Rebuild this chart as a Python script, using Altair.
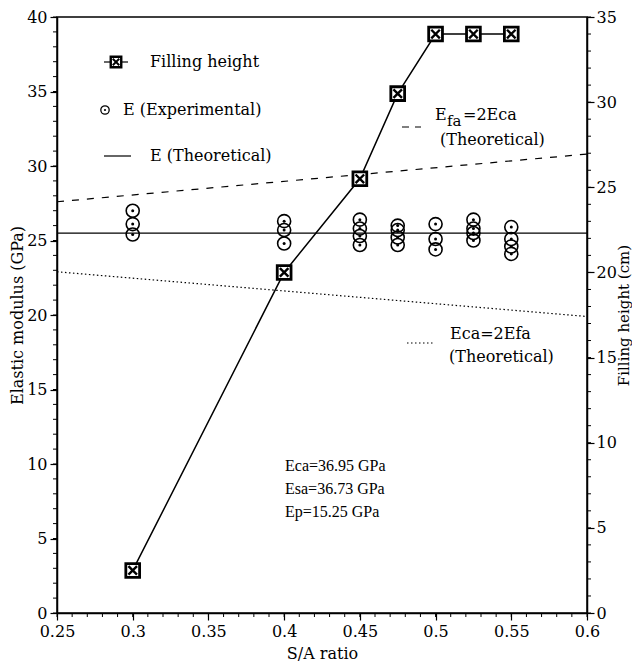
import altair as alt
import pandas as pd

# ---------------- data ----------------
sa_fill = [0.3, 0.4, 0.45, 0.475, 0.5, 0.525, 0.55]
fill_height = [2.5, 20.0, 25.5, 30.5, 34.0, 34.0, 34.0]

exp_sa = ([0.3] * 3 + [0.4] * 3 + [0.45] * 4 + [0.475] * 4 +
          [0.5] * 3 + [0.525] * 4 + [0.55] * 4)
exp_e = [27.0, 26.1, 25.4,
         26.3, 25.7, 24.8,
         26.4, 25.8, 25.3, 24.7,
         26.0, 25.7, 25.2, 24.7,
         26.1, 25.1, 24.4,
         26.4, 25.8, 25.5, 25.0,
         25.9, 25.1, 24.6, 24.1]

theo_sa = [0.25, 0.6]
e_theo = [25.5, 25.5]
e_fa2ca = [27.6, 30.8]
e_ca2fa = [22.9, 19.9]

x_major = [0.25, 0.3, 0.35, 0.4, 0.45, 0.5, 0.55, 0.6]
x_minor = [round(0.25 + 0.01 * i, 2) for i in range(36)]
left_major = [0, 5, 10, 15, 20, 25, 30, 35, 40]
left_minor = list(range(0, 41))
right_major = [0, 5, 10, 15, 20, 25, 30, 35]
right_minor = list(range(0, 36))

FONT = "DejaVu Serif"
FONT2 = "Liberation Serif"
W, H = 530, 596

fill_df = pd.DataFrame({"sa": sa_fill, "h": fill_height})
exp_df = pd.DataFrame({"sa": exp_sa, "e": exp_e})
theo_df = pd.DataFrame({"sa": theo_sa, "e": e_theo, "fa": e_fa2ca, "ca": e_ca2fa})

x_scale = alt.Scale(domain=[0.25, 0.6], nice=False, zero=False)
yL = alt.Scale(domain=[0, 40], nice=False)
yR = alt.Scale(domain=[0, 35], nice=False)

axis_common = dict(grid=False, domainColor="black", tickColor="black",
                   labelColor="black", titleColor="black", labelFont=FONT,
                   titleFont=FONT, labelFontSize=16,
                   titleFontWeight="normal", tickSize=7, domainWidth=1.5,
                   tickWidth=1.2)

x_axis = alt.Axis(values=x_major, format=".2~f", title="S/A ratio",
                  labelPadding=3, titlePadding=6, titleFontSize=16,
                  labelFlush=False, **axis_common)
left_axis = alt.Axis(orient="left", values=left_major, title="Elastic modulus (GPa)",
                     labelPadding=3, titlePadding=1, titleFontSize=16, **axis_common)
right_axis = alt.Axis(orient="right", values=right_major, title="Filling height (cm)",
                      labelPadding=2, titlePadding=0, titleAngle=270, titleFontSize=15,
                      titleBaseline="top", **axis_common)

X = alt.X("sa:Q", scale=x_scale, axis=x_axis)

# theoretical lines
theo_solid = alt.Chart(theo_df).mark_line(color="black", strokeWidth=1.2).encode(
    x=X, y=alt.Y("e:Q", scale=yL, axis=left_axis))
theo_dash = alt.Chart(theo_df).mark_line(color="black", strokeWidth=1.2,
                                         strokeDash=[7, 8]).encode(
    x=X, y=alt.Y("fa:Q", scale=yL, axis=None))
theo_dot = alt.Chart(theo_df).mark_line(color="black", strokeWidth=1.2,
                                        strokeDash=[1.5, 2.5]).encode(
    x=X, y=alt.Y("ca:Q", scale=yL, axis=None))

# experimental
exp_ring = alt.Chart(exp_df).mark_point(shape="circle", size=170, filled=False,
                                        color="black", strokeWidth=1.6, opacity=1).encode(
    x=X, y=alt.Y("e:Q", scale=yL, axis=None))
exp_dot = alt.Chart(exp_df).mark_circle(size=9, color="black", opacity=1).encode(
    x=X, y=alt.Y("e:Q", scale=yL, axis=None))

# filling height
fill_line = alt.Chart(fill_df).mark_line(color="black", strokeWidth=1.5).encode(
    x=X, y=alt.Y("h:Q", scale=yR, axis=right_axis))
fill_sq = alt.Chart(fill_df).mark_point(shape="square", size=190, filled=True,
                                        fill="white", stroke="black",
                                        strokeWidth=2.8, opacity=1).encode(
    x=X, y=alt.Y("h:Q", scale=yR, axis=None))
XPATH = "M-0.62,-0.62L0.62,0.62M-0.62,0.62L0.62,-0.62"
fill_x = alt.Chart(fill_df).mark_point(shape=XPATH, size=190, filled=False,
                                       color="black", strokeWidth=2.4, opacity=1).encode(
    x=X, y=alt.Y("h:Q", scale=yR, axis=None))

# minor ticks
xmin_df = pd.DataFrame({"sa": x_minor})
lmin_df = pd.DataFrame({"v": left_minor})
rmin_df = pd.DataFrame({"v": right_minor})
x_minor_ticks = alt.Chart(xmin_df).mark_rule(color="black", strokeWidth=1).encode(
    x=X, y=alt.value(H), y2=alt.value(H + 4))
l_minor_ticks = alt.Chart(lmin_df).mark_rule(color="black", strokeWidth=1).encode(
    y=alt.Y("v:Q", scale=yL, axis=None), x=alt.value(-4), x2=alt.value(0))
r_minor_ticks = alt.Chart(rmin_df).mark_rule(color="black", strokeWidth=1).encode(
    y=alt.Y("v:Q", scale=yR, axis=None), x=alt.value(W), x2=alt.value(W + 4))


def txt(s, x, y, font=FONT, size=16, dy=0):
    return alt.Chart(pd.DataFrame({"t": [s]})).mark_text(
        align="left", baseline="middle", font=font, fontSize=size,
        color="black", dy=dy).encode(x=alt.value(x), y=alt.value(y), text="t:N")


def seg(x1, x2, y, dash=None):
    kw = dict(color="black", strokeWidth=1.2)
    if dash:
        kw["strokeDash"] = dash
    return alt.Chart(pd.DataFrame({"a": [0]})).mark_rule(**kw).encode(
        x=alt.value(x1), x2=alt.value(x2), y=alt.value(y))


def sym(x, y, shape, size, **kw):
    return alt.Chart(pd.DataFrame({"a": [0]})).mark_point(
        shape=shape, size=size, opacity=1, **kw).encode(x=alt.value(x), y=alt.value(y))


legend = [
    seg(47, 71, 45),
    sym(59, 45, "square", 110, filled=True, fill="white", stroke="black", strokeWidth=2.4),
    sym(59, 45, XPATH, 110, filled=False, color="black", strokeWidth=1.9),
    txt("Filling height", 93, 45),
    sym(48, 93, "circle", 70, filled=False, color="black", strokeWidth=1.3),
    sym(48, 93, "circle", 5, filled=True, color="black"),
    txt("E (Experimental)", 66, 93),
    seg(47, 74, 139),
    txt("E (Theoretical)", 93, 139),
    seg(345, 364, 110, [7, 6]),
    txt("E", 378, 98),
    txt("fa", 390, 98, size=15, dy=6),
    txt("=2Eca", 406, 98),
    txt("(Theoretical)", 383, 123),
    seg(350, 378, 326, [1.5, 2.5]),
    txt("Eca=2Efa", 393, 317),
    txt("(Theoretical)", 392, 340),
    txt("Eca=36.95 GPa", 228, 449, font=FONT2),
    txt("Esa=36.73 GPa", 228, 472, font=FONT2),
    txt("Ep=15.25 GPa", 228, 495, font=FONT2),
]

chart = alt.layer(
    theo_solid, theo_dash, theo_dot, exp_ring, exp_dot,
    fill_line, fill_sq, fill_x,
    x_minor_ticks, l_minor_ticks, r_minor_ticks,
    *legend
).resolve_scale(y="independent").properties(
    width=W, height=H,
    padding={"left": 49, "top": 9, "right": 45, "bottom": 48},
    autosize=alt.AutoSizeParams(type="none"),
    background="white",
).configure_view(stroke="black", strokeWidth=1.5)

chart.save("out.html", embed_options={"renderer": "svg", "actions": False})
